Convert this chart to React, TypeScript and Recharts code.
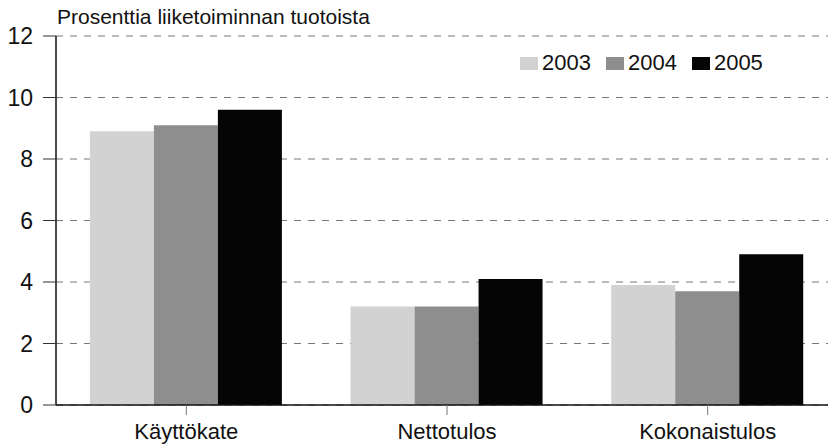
import { BarChart, Bar, XAxis, YAxis, CartesianGrid } from "recharts";

const categories = ["Käyttökate", "Nettotulos", "Kokonaistulos"];
const years = ["2003", "2004", "2005"];
const values2003 = [8.9, 3.2, 3.9];
const values2004 = [9.1, 3.2, 3.7];
const values2005 = [9.6, 4.1, 4.9];
const yTicks = [0, 2, 4, 6, 8, 10, 12];

const colors: Record<string, string> = {
  "2003": "#d2d2d2",
  "2004": "#8e8e8e",
  "2005": "#050505",
};

const data = categories.map((name, i) => ({
  name,
  "2003": values2003[i],
  "2004": values2004[i],
  "2005": values2005[i],
}));

const font = "'Liberation Sans', Arial, sans-serif";

function LegendBox() {
  return (
    <div
      style={{
        position: "absolute",
        left: 520,
        top: 50,
        display: "flex",
        alignItems: "center",
        fontFamily: font,
        fontSize: 22,
        color: "#111",
      }}
    >
      {years.map((y) => (
        <div key={y} style={{ display: "flex", alignItems: "center", marginRight: 15 }}>
          <span style={{ width: 18, height: 13, background: colors[y], display: "inline-block", marginRight: 4 }} />
          <span>{y}</span>
        </div>
      ))}
    </div>
  );
}

export default function App() {
  return (
    <div
      style={{
        position: "fixed",
        left: 0,
        top: 0,
        width: 828,
        height: 445,
        overflow: "hidden",
        background: "#fff",
      }}
    >
      <div
        style={{
          position: "absolute",
          left: 57,
          top: 5,
          fontFamily: font,
          fontSize: 21,
          color: "#111",
          whiteSpace: "nowrap",
        }}
      >
        Prosenttia liiketoiminnan tuotoista
      </div>
      <BarChart
        width={838}
        height={445}
        data={data}
        margin={{ top: 36, right: 0, bottom: 0, left: 0 }}
        barCategoryGap="13%"
        barGap={0}
      >
        <CartesianGrid vertical={false} stroke="#777" strokeDasharray="7 7" />
        <XAxis
          dataKey="name"
          height={40}
          axisLine={{ stroke: "#111", strokeWidth: 1.5 }}
          tickLine={{ stroke: "#777" }}
          tickSize={10}
          tickMargin={8}
          tick={{ fontSize: 22, fill: "#111", fontFamily: font }}
        />
        <YAxis
          width={56}
          domain={[0, 12]}
          ticks={yTicks}
          interval={0}
          axisLine={{ stroke: "#111", strokeWidth: 1.5 }}
          tickLine={{ stroke: "#333" }}
          tickSize={13}
          tickMargin={10}
          tick={{ fontSize: 23, fill: "#111", fontFamily: font }}
        />
        {years.map((y) => (
          <Bar key={y} dataKey={y} fill={colors[y]} isAnimationActive={false} />
        ))}
      </BarChart>
      <LegendBox />
    </div>
  );
}
